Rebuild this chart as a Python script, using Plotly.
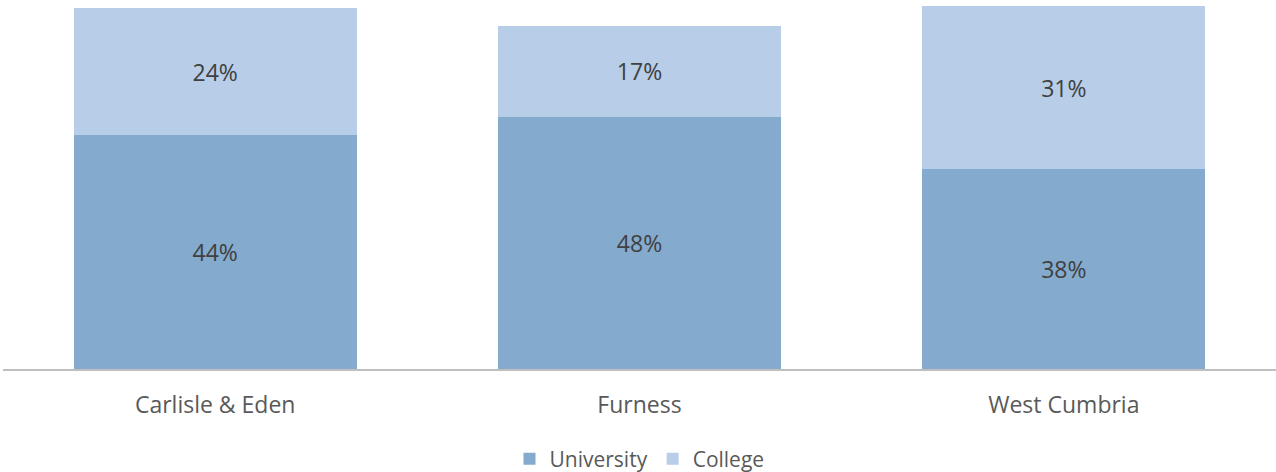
import plotly.graph_objects as go

categories = ["Carlisle & Eden", "Furness", "West Cumbria"]
university = [44.3, 47.9, 37.9]
college = [24.2, 17.1, 31.0]

fig = go.Figure()
fig.add_trace(go.Bar(name="University", x=categories, y=university,
                     marker=dict(color="#84AACE", line=dict(width=0)),
                     texttemplate="%{y:.0f}%", textposition="inside",
                     insidetextanchor="middle",
                     textfont=dict(color="#404040", size=23, family="Open Sans")))
fig.add_trace(go.Bar(name="College", x=categories, y=college,
                     marker=dict(color="#B7CDE8", line=dict(width=0)),
                     texttemplate="%{y:.0f}%", textposition="inside",
                     insidetextanchor="middle",
                     textfont=dict(color="#404040", size=23, family="Open Sans")))

fig.update_layout(
    barmode="stack", bargap=0.333,
    width=1276, height=472,
    margin=dict(l=3, r=0, t=0, b=103, autoexpand=False),
    paper_bgcolor="white", plot_bgcolor="white",
    font=dict(family="Open Sans", color="#595959"),
    showlegend=True,
    legend=dict(orientation="h", x=0.5, xanchor="center",
                yref="container", y=(472 - 459) / 472, yanchor="middle",
                font=dict(size=21, color="#595959"), traceorder="normal"),
    uniformtext=dict(mode=False),
)
fig.update_xaxes(showline=True, linecolor="#BFBFBF", linewidth=1.5, ticks="",
                 automargin=False,
                 tickfont=dict(size=23, color="#595959"), ticklabelstandoff=15)
fig.update_yaxes(range=[0, 70], visible=False, showgrid=False, zeroline=False,
                 automargin=False)

fig.write_html("out.html", config={"displayModeBar": False},
               post_script="document.body.style.margin='0px';")
